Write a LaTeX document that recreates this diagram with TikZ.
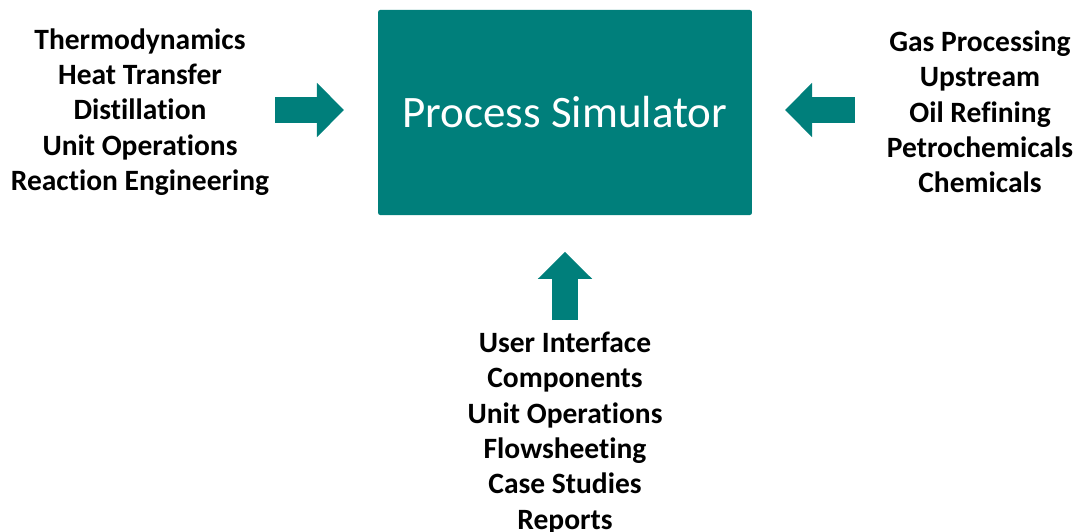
\documentclass[tikz,border=0pt]{standalone}
\usepackage{fontspec}
\setmainfont[Ligatures={NoCommon,NoDiscretionary}]{Carlito}
\usepackage{tikz}
\usetikzlibrary{arrows.meta}
\definecolor{simteal}{RGB}{0,127,123}

\begin{document}
\begin{tikzpicture}[x=1pt, y=-1pt]
    \tikzstyle{every node}+=[inner sep=0pt]
    \tikzstyle{topic}=[align=center, font=\fontsize{29.5}{35.3}\selectfont\bfseries]
    \tikzstyle{feed}=[simteal, line width=26.6pt, -{Triangle[width=52.7pt, length=27pt]}]
    \useasboundingbox (0,0) rectangle (1078,532);
    \node [fill=simteal, rounded corners=2pt, minimum width=373.7pt, minimum height=205pt,
        text=white, font=\fontsize{45}{54}\selectfont] (sim) at (565,112.5) {Process Simulator};
    \node [topic] (theory) at (140,112) {Thermodynamics\\Heat Transfer\\Distillation\\Unit Operations\\Reaction Engineering};
    \node [topic] (market) at (980,112) {Gas Processing\\Upstream\\Oil Refining\\Petrochemicals\\Chemicals};
    \node [topic] (tools) at (565,433) {User Interface\\Components\\Unit Operations\\Flowsheeting\\Case Studies\\Reports};
    \draw [feed, shorten <=6pt, shorten >=34pt] (theory.east |- 0,110) -- (sim.west |- 0,110);
    \draw [feed, shorten <=32pt, shorten >=33pt] (market.west |- 0,110) -- (sim.east |- 0,110);
    \draw [feed, shorten >=36.7pt] (tools.north |- 0,320) -- (sim.south);
\end{tikzpicture}
\end{document}
